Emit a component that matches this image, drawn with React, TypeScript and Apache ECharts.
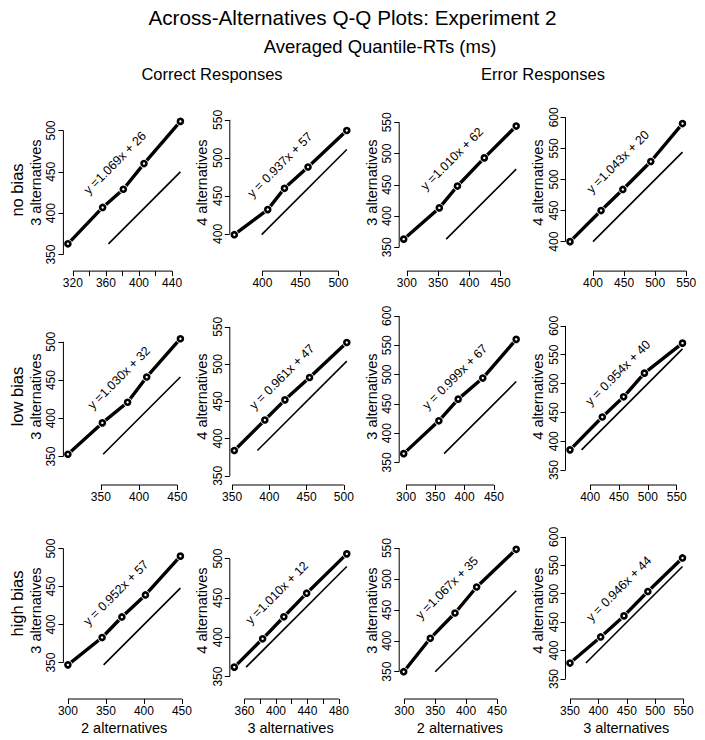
import React, { useEffect, useRef } from "react";
import * as echarts from "echarts";

const FONT = "'Liberation Sans', Arial, Helvetica, sans-serif";

// Averaged quantile RTs (ms): 2, 3 and 4 alternatives, per bias condition, correct (C) / error (E)
const NB_C_2 = [314, 356, 381, 406, 450];
const NB_C_3 = [363, 407, 429, 460, 511];
const NB_C_4 = [399, 432, 460, 488, 536];
const NB_E_2 = [295, 352, 381, 424, 475];
const NB_E_3 = [363, 413, 448, 493, 544];
const NB_E_4 = [400, 450, 484, 529, 590];
const LB_C_2 = [307, 352, 385, 410, 454];
const LB_C_3 = [353, 394, 421, 454, 504];
const LB_C_4 = [384, 425, 452, 482, 529];
const LB_E_2 = [296, 356, 389, 431, 488];
const LB_E_3 = [365, 421, 458, 494, 560];
const LB_E_4 = [385, 442, 477, 518, 570];
const HB_C_2 = [300, 345, 371, 402, 448];
const HB_C_3 = [347, 383, 410, 439, 490];
const HB_C_4 = [362, 398, 426, 456, 506];
const HB_E_2 = [299, 342, 382, 417, 481];
const HB_E_3 = [350, 404, 445, 487, 548];
const HB_E_4 = [378, 424, 461, 504, 563];

const EQUATIONS = [
  "y =1.069x + 26", "y = 0.937x + 57", "y =1.010x + 62", "y =1.043x + 20",
  "y =1.030x + 32", "y = 0.961x + 47", "y = 0.999x + 67", "y = 0.954x + 40",
  "y = 0.952x + 57", "y =1.010x + 12", "y =1.067x + 35", "y = 0.946x + 44",
];

const X_TICKS = [
  [320, 340, 360, 380, 400, 420, 440], [400, 450, 500], [300, 350, 400, 450], [400, 450, 500, 550],
  [350, 400, 450], [350, 400, 450, 500], [300, 350, 400, 450], [400, 450, 500, 550],
  [300, 350, 400, 450], [360, 380, 400, 420, 440, 460, 480], [300, 350, 400, 450], [350, 400, 450, 500, 550],
];
const X_LABELS = [
  [320, 360, 400, 440], [400, 450, 500], [300, 350, 400, 450], [400, 450, 500, 550],
  [350, 400, 450], [350, 400, 450, 500], [300, 350, 400, 450], [400, 450, 500, 550],
  [300, 350, 400, 450], [360, 400, 440, 480], [300, 350, 400, 450], [350, 400, 450, 500, 550],
];
const Y_TICKS = [
  [350, 400, 450, 500], [400, 450, 500, 550], [350, 400, 450, 500, 550], [400, 450, 500, 550, 600],
  [350, 400, 450, 500], [350, 400, 450, 500, 550], [350, 400, 450, 500, 550, 600], [350, 400, 450, 500, 550, 600],
  [350, 400, 450, 500], [350, 400, 450, 500], [350, 400, 450, 500, 550], [350, 400, 450, 500, 550, 600],
];

const ROW_NAMES = ["no bias", "low bias", "high bias"];
const PAIRS = [
  [NB_C_2, NB_C_3], [NB_C_3, NB_C_4], [NB_E_2, NB_E_3], [NB_E_3, NB_E_4],
  [LB_C_2, LB_C_3], [LB_C_3, LB_C_4], [LB_E_2, LB_E_3], [LB_E_3, LB_E_4],
  [HB_C_2, HB_C_3], [HB_C_3, HB_C_4], [HB_E_2, HB_E_3], [HB_E_3, HB_E_4],
];
const X_NAMES = ["2 alternatives", "3 alternatives", "2 alternatives", "3 alternatives"];
const Y_NAMES = ["3 alternatives", "4 alternatives", "3 alternatives", "4 alternatives"];

// layout (pixels)
const COL_LEFT = [63.4, 229.8, 399.2, 565.5];
const ROW_TOP = [94.1, 308, 522];
const PW = 121.5;
const PH = 177;
const EQ_POS = [
  [115, 163], [280, 165], [452, 159], [618, 162],
  [119, 378], [282, 377], [455, 377], [618, 373],
  [116, 593], [277, 593], [447, 588], [619, 589],
];
const ROW_LABEL_Y = [190, 396.5, 603.5];

// R-style plot window: asp = 1, then 4% extension
function rLimits(xs: number[], ys: number[]) {
  let x0 = Math.min(...xs), x1 = Math.max(...xs), y0 = Math.min(...ys), y1 = Math.max(...ys);
  const xd = x1 - x0, yd = y1 - y0;
  const s = Math.min(PW / xd, PH / yd);
  const xadd = 0.5 * (PW / s - xd), yadd = 0.5 * (PH / s - yd);
  x0 -= xadd; x1 += xadd; y0 -= yadd; y1 += yadd;
  const ex = 0.04 * (x1 - x0), ey = 0.04 * (y1 - y0);
  return [x0 - ex, x1 + ex, y0 - ey, y1 + ey];
}

function buildOption() {
  const grid: any[] = [], xAxis: any[] = [], yAxis: any[] = [], series: any[] = [], graphic: any[] = [];
  PAIRS.forEach(([xs, ys], i) => {
    const r = Math.floor(i / 4), c = i % 4;
    const [xmin, xmax, ymin, ymax] = rLimits(xs, ys);
    grid.push({ left: COL_LEFT[c], top: ROW_TOP[r], width: PW, height: PH, containLabel: false, outerBoundsMode: "none" });
    const xt = X_TICKS[i], yt = Y_TICKS[i];
    xAxis.push({
      type: "value", gridIndex: i, min: xmin, max: xmax, position: "bottom",
      axisLine: { show: false }, splitLine: { show: false },
      axisTick: { show: true, length: 5, customValues: xt, lineStyle: { color: "#000", width: 1 } },
      axisLabel: { customValues: X_LABELS[i], margin: 6, fontSize: 12, color: "#000", fontFamily: FONT },
      name: r === 2 ? X_NAMES[c] : "", nameLocation: "middle", nameGap: 21,
      nameTextStyle: { fontSize: 14.5, color: "#000", fontFamily: FONT },
    });
    yAxis.push({
      type: "value", gridIndex: i, min: ymin, max: ymax, position: "left",
      axisLine: { show: false }, splitLine: { show: false },
      axisTick: { show: true, length: 5, customValues: yt, lineStyle: { color: "#000", width: 1 } },
      axisLabel: { customValues: yt, rotate: 90, margin: 6, fontSize: 12, color: "#000", fontFamily: FONT },
      name: Y_NAMES[c], nameLocation: "middle", nameGap: 20, nameRotate: 90,
      nameTextStyle: { fontSize: 14.5, color: "#000", fontFamily: FONT },
    });
    const pts = xs.map((v, k) => [v, ys[k]]);
    const lo = Math.max(Math.min(...xs), Math.min(...ys));
    const hi = Math.min(Math.max(...xs), Math.max(...ys));
    const base = { xAxisIndex: i, yAxisIndex: i, silent: true, animation: false };
    series.push({ ...base, type: "line", data: pts, showSymbol: false, symbol: "none", z: 2,
      lineStyle: { color: "#000", width: 3.4 } });
    series.push({ ...base, type: "scatter", data: pts, symbolSize: 9, z: 3,
      itemStyle: { color: "#fff", opacity: 1 } });
    series.push({ ...base, type: "line", data: [[lo, lo], [hi, hi]], symbol: "none", z: 4,
      lineStyle: { color: "#000", width: 1.6 } });
    series.push({ ...base, type: "scatter", data: pts, symbolSize: 5, z: 5,
      itemStyle: { color: "#fff", borderColor: "#000", borderWidth: 2.6, opacity: 1 } });
    series.push({ ...base, type: "line", data: [[xmin, yt[0]], [xmin, yt[yt.length - 1]]], symbol: "none",
      clip: false, z: 6, lineStyle: { color: "#000", width: 1 } });
    series.push({ ...base, type: "line", data: [[xt[0], ymin], [xt[xt.length - 1], ymin]], symbol: "none",
      clip: false, z: 6, lineStyle: { color: "#000", width: 1 } });
    graphic.push({
      type: "text", x: EQ_POS[i][0], y: EQ_POS[i][1], rotation: Math.PI / 4, silent: true,
      style: { text: EQUATIONS[i], fill: "#000", fontSize: 12.5, fontFamily: FONT, textAlign: "center", textVerticalAlign: "middle" },
    });
  });
  ROW_NAMES.forEach((t, r) => {
    graphic.push({
      type: "text", x: 16.7, y: ROW_LABEL_Y[r], rotation: Math.PI / 2, silent: true,
      style: { text: t, fill: "#000", fontSize: 16.5, fontFamily: FONT, textAlign: "center", textVerticalAlign: "middle" },
    });
  });
  const heads = [
    { text: "Across-Alternatives Q-Q Plots: Experiment 2", x: 352.5, y: 17, size: 20.7 },
    { text: "Averaged Quantile-RTs (ms)", x: 380, y: 46, size: 18.5 },
    { text: "Correct Responses", x: 212, y: 74, size: 16.5 },
    { text: "Error Responses", x: 543, y: 74, size: 16.5 },
  ];
  heads.forEach((h) => {
    graphic.push({
      type: "text", x: h.x, y: h.y, silent: true,
      style: { text: h.text, fill: "#000", fontSize: h.size, fontFamily: FONT, textAlign: "center", textVerticalAlign: "middle" },
    });
  });
  return { animation: false, backgroundColor: "#fff", grid, xAxis, yAxis, series, graphic };
}

export default function App() {
  const ref = useRef<HTMLDivElement>(null);
  useEffect(() => {
    if (!ref.current) return;
    const chart = echarts.init(ref.current, null, { renderer: "svg" });
    chart.setOption(buildOption() as any);
    return () => chart.dispose();
  }, []);
  return <div ref={ref} style={{ position: "fixed", left: 0, top: 0, width: 705, height: 740, background: "#fff" }} />;
}
